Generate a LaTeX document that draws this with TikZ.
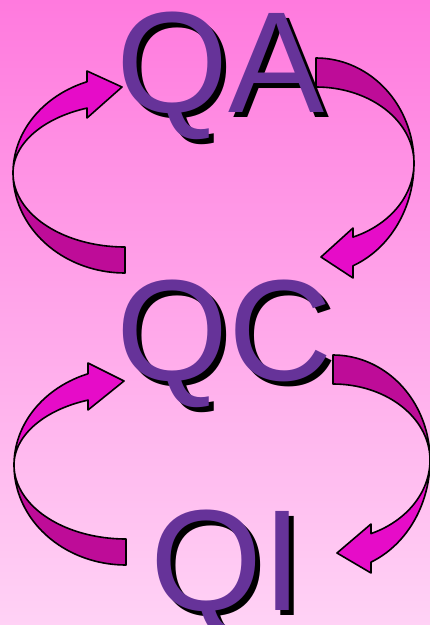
\documentclass[tikz,border=0pt]{standalone}
\usepackage{fontspec}
\setmainfont{Liberation Sans}
\definecolor{bgtop}{RGB}{255,122,222}
\definecolor{bgbot}{RGB}{255,210,245}
\definecolor{txtpurple}{RGB}{102,51,153}
\definecolor{frontmag}{RGB}{230,12,200}
\definecolor{backmag}{RGB}{190,12,152}
\newcommand{\bigqfont}{\fontsize{144}{144}\selectfont}
% #1 rx, #2 back outer ry, #3 back inner ry, #4 front outer ry, #5 front inner ry,
% #6 head base x, #7 outer barb y, #8 inner barb y, #9 tip
\newcommand{\twistarrow}[9]{%
  \pgfmathsetmacro{\tz}{360-acos(#6/#1)}%
  \filldraw[backband] (-#1,0)
    -- plot[domain=180:90, samples=40] ({#1*cos(\x)},{#2*sin(\x)})
    -- (0,#3)
    -- plot[domain=90:180, samples=40] ({#1*cos(\x)},{#3*sin(\x)}) -- cycle;
  \filldraw[frontband] (-#1,0)
    -- plot[domain=180:\tz, samples=40] ({#1*cos(\x)},{#4*sin(\x)})
    -- (#6,#7) -- #9 -- (#6,#8)
    -- plot[domain=\tz:180, samples=40] ({#1*cos(\x)},{#5*sin(\x)}) -- cycle;
}
\begin{document}
\begin{tikzpicture}[x=1pt,y=-1pt,
  backband/.style={fill=backmag, draw=black, line width=1.6pt, line join=round},
  frontband/.style={fill=frontmag, draw=black, line width=1.6pt, line join=round},
  word/.style={anchor=base west, inner sep=0pt, font=\bigqfont, text=txtpurple},
  wordshadow/.style={anchor=base west, inner sep=0pt, font=\bigqfont, text=black}]
\useasboundingbox (0,0) rectangle (430,625);
\shade[top color=bgtop, bottom color=bgbot] (0,0) rectangle (430,625);

% curved arrows
\begin{scope}[shift={(125,173)}]
  \twistarrow{112}{100}{74}{97}{69}{-38}{-102}{-55}{(-3,-86)}
\end{scope}
\begin{scope}[shift={(126,465)}]
  \twistarrow{112}{100}{74}{97}{69}{-38}{-102}{-55}{(-2,-84)}
\end{scope}
\begin{scope}[shift={(316,163)}, xscale=-1, yscale=-1]
  \twistarrow{98}{105}{76}{111}{80}{-37}{-115}{-65}{(-5,-94)}
\end{scope}
\begin{scope}[shift={(333,460)}, xscale=-1, yscale=-1]
  \twistarrow{97}{105}{76}{111}{80}{-38}{-113}{-64}{(-4,-93)}
\end{scope}

% words
\node[wordshadow] (qas) at (121.5,117.5) {QA};
\node[word] (qa) at (116,112) {QA};
\node[wordshadow] (qcs) at (121.5,385.5) {QC};
\node[word] (qc) at (116,380) {QC};
\node[wordshadow] (qis) at (155.5,615.5) {QI};
\node[word] (qi) at (150,610) {QI};
\end{tikzpicture}
\end{document}
